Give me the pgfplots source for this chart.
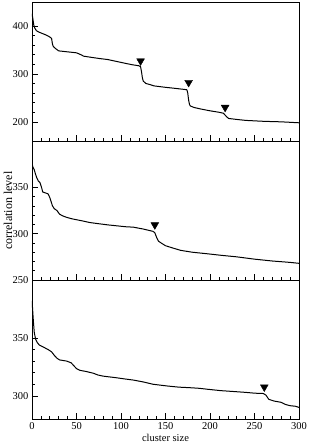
\documentclass[border=0pt]{standalone}
\usepackage{fontspec}
\setmainfont{Liberation Serif}
\usepackage{pgfplots}
\pgfplotsset{compat=1.18}
\pgfplotsset{
  panel/.style={
    scale only axis, width=267pt, height=139pt,
    xmin=0, xmax=300,
    axis line style={line width=0.8pt},
    tick align=inside, xtick pos=bottom, ytick pos=left,
    xtick={0,50,...,300}, minor x tick num=4,
    major tick length=6pt, minor tick length=3pt,
    tick style={line width=0.6pt, black},
    ticklabel style={font=\fontsize{10.5}{12}\selectfont},
    /pgf/number format/assume math mode=true,
    label style={font=\fontsize{10.5}{12}\selectfont},
  },
  curve/.style={black, line width=1.0pt, line join=round},
  tri/.style={only marks, mark=triangle*, mark size=4.5pt, mark options={rotate=180, fill=black, draw=black}},
}
\begin{document}
\begin{tikzpicture}
\path[use as bounding box] (0pt,0pt) rectangle (308pt,-444pt);
% panel 1
\begin{axis}[panel, at={(32pt,-2pt)}, anchor=north west,
  ymin=160, ymax=450, ytick={200,300,400}, minor y tick num=4,
  xticklabels={}]
\addplot[curve] coordinates {
(0,426) (1,415) (2,402) (3,396) (5,390) (8,387) (12,384) (16,381) (20,377) (22,374)
(23,362) (24,357) (27,352) (30,348) (40,346) (50,344) (55,340) (58,337) (65,335) (76,332)
(85,330) (95,326) (105,322) (113,319) (120,317) (122,315) (123,305) (124,292) (125,285) (128,280)
(132,278) (137,275) (150,272) (160,270) (174,267) (175,260) (176,245) (177,236) (178,233) (182,230)
(189,227) (200,223) (210,220) (215,218) (217,214) (219,210) (221,207) (230,205) (240,203) (261,201)
(280,200) (300,198)};
\addplot[tri] coordinates {(122,327) (176,282) (217,230)};
\end{axis}
% panel 2
\begin{axis}[panel, at={(32pt,-141pt)}, anchor=north west,
  ymin=250, ymax=400, ytick={250,300,350}, minor y tick num=4,
  xticklabels={}, ylabel={correlation level},
  ylabel style={font=\fontsize{12}{14}\selectfont, at={(rel axis cs:0,0.5)}, anchor=center, yshift=24pt}]
\addplot[curve] coordinates {
(0,376) (1,372) (2.5,369) (4,364) (5.5,360) (7,357) (9,355) (11,349) (12,345) (15,344)
(18,343) (20,339) (21,336) (23,330) (25,327) (28,325) (31,321) (35,319) (39,317.6) (45,316)
(57,313.7) (65,312) (76,310.6) (85,309.5) (95,308.5) (105,307.5) (114,307) (125,305) (136,302.5) (138,301)
(140,296) (142,292) (145,290) (150,287) (160,284) (167,282) (180,280) (190,279) (200,278) (212,276.7)
(230,275) (250,272.5) (270,270.5) (290,269) (300,268)};
\addplot[tri] coordinates {(138,309.5)};
\end{axis}
% panel 3
\begin{axis}[panel, at={(32pt,-280pt)}, anchor=north west,
  ymin=280, ymax=400, ytick={300,350}, minor y tick num=4,
  xlabel={cluster size}, xlabel style={yshift=2pt}]
\addplot[curve] coordinates {
(0,382) (0.5,377) (1,371) (1.5,365) (2.5,355) (4,349) (6,346) (8,344) (12,342.4) (18,340)
(22,338) (25,335) (28,332.5) (31,331) (39,330) (44,328.5) (47,326) (50,323.5) (54,322) (61,321)
(69,319.5) (74,318) (80,317) (95,315.6) (105,314.5) (114,313.6) (125,312) (136,310) (152,308.5) (165,307.5)
(178,307) (188,306.5) (197,305.7) (212,304.5) (227,303.7) (240,303) (250,302.3) (260,302) (263,300.5) (266,297)
(272,295.5) (280,294.4) (285,292.5) (290,291.5) (296,291) (300,290)};
\addplot[tri] coordinates {(261,307.6)};
\end{axis}
\end{tikzpicture}
\end{document}
